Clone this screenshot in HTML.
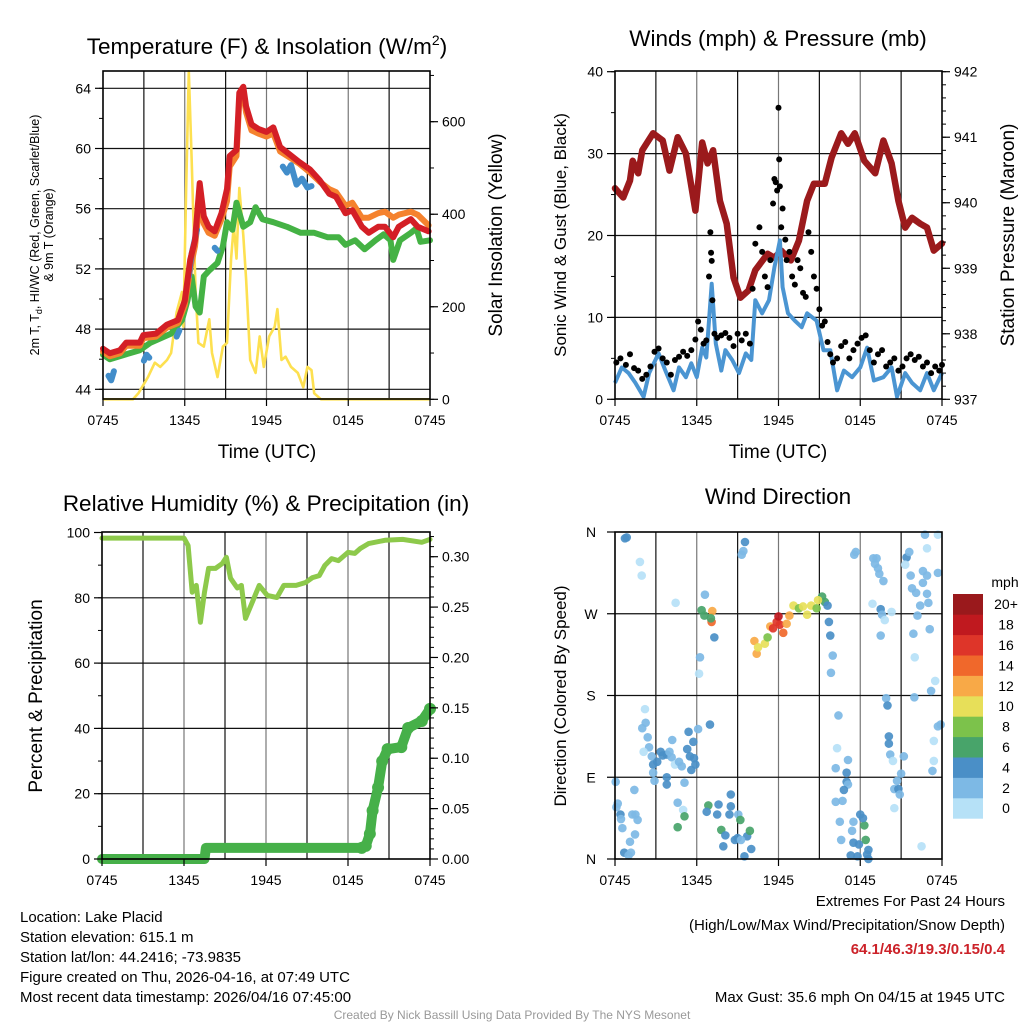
<!DOCTYPE html>
<html><head><meta charset="utf-8"><title>Mesonet Meteogram</title>
<style>
html,body{margin:0;padding:0;background:#fff;}
svg{display:block;font-family:"Liberation Sans",Arial,sans-serif;}
</style></head>
<body>
<svg id="chart" width="1024" height="1024" viewBox="0 0 1024 1024" xmlns="http://www.w3.org/2000/svg">
<rect width="1024" height="1024" fill="#fff"/>
<!-- titles -->
<text x="267" y="54" font-size="22.5" text-anchor="middle">Temperature (F) &amp; Insolation (W/m<tspan font-size="14" dy="-9">2</tspan><tspan dy="9">)</tspan></text>
<text x="778" y="46" font-size="22.5" text-anchor="middle">Winds (mph) &amp; Pressure (mb)</text>
<text x="266" y="511" font-size="22.5" text-anchor="middle">Relative Humidity (%) &amp; Precipitation (in)</text>
<text x="778" y="504" font-size="22.5" text-anchor="middle">Wind Direction</text>
<!-- axis titles -->
<text transform="translate(39,235) rotate(-90)" font-size="12.5" text-anchor="middle">2m T, T<tspan font-size="9" dy="3">d</tspan><tspan dy="-3">, HI/WC (Red, Green, Scarlet/Blue)</tspan></text>
<text transform="translate(53,235) rotate(-90)" font-size="12.5" text-anchor="middle">&amp; 9m T (Orange)</text>
<text transform="translate(502,235) rotate(-90)" font-size="19" text-anchor="middle">Solar Insolation (Yellow)</text>
<text x="267" y="458" font-size="19" text-anchor="middle">Time (UTC)</text>
<text transform="translate(566,235) rotate(-90)" font-size="17" text-anchor="middle">Sonic Wind &amp; Gust (Blue, Black)</text>
<text transform="translate(1014,235) rotate(-90)" font-size="19" text-anchor="middle">Station Pressure (Maroon)</text>
<text x="778" y="458" font-size="19" text-anchor="middle">Time (UTC)</text>
<text transform="translate(42,696) rotate(-90)" font-size="19" text-anchor="middle">Percent &amp; Precipitation</text>
<text transform="translate(566,696) rotate(-90)" font-size="17" text-anchor="middle">Direction (Colored By Speed)</text>
<!-- footer -->
<g font-size="15">
<text x="20" y="922">Location: Lake Placid</text>
<text x="20" y="942">Station elevation: 615.1 m</text>
<text x="20" y="962">Station lat/lon: 44.2416; -73.9835</text>
<text x="20" y="982">Figure created on Thu, 2026-04-16, at 07:49 UTC</text>
<text x="20" y="1002">Most recent data timestamp: 2026/04/16 07:45:00</text>
</g>
<g font-size="15" text-anchor="end">
<text x="1005" y="906">Extremes For Past 24 Hours</text>
<text x="1005" y="930">(High/Low/Max Wind/Precipitation/Snow Depth)</text>
<text x="1005" y="954" fill="#cc2229" font-weight="bold">64.1/46.3/19.3/0.15/0.4</text>
<text x="1005" y="1002">Max Gust: 35.6 mph On 04/15 at 1945 UTC</text>
</g>
<text x="512" y="1019" font-size="12" fill="#999" text-anchor="middle">Created By Nick Bassill Using Data Provided By The NYS Mesonet</text>
<g id="plots"></g>
</svg>
<script>
// ---------- data (hours since 0745 UTC) ----------
const xTickLabels = ["0745","1345","1945","0145","0745"];
const tRed = [0,0.5,1.25,1.7,2.7,2.96,3.9,4.7,5.5,6.0,6.4,6.75,7.1,7.4,7.75,8.2,8.7,9.1,9.3,9.8,10.0,10.3,10.5,10.9,11.4,12.0,12.5,13.0,13.7,14.4,15.2,15.9,16.6,17.1,17.8,18.3,19.0,19.5,20.2,20.7,21.3,21.7,22.6,23.1,23.9];
const vRed = [46.7,46.4,46.6,47.1,47.1,47.6,47.7,48.3,48.6,49.9,52.6,53.9,57.7,55.5,54.8,54.5,55.7,57.3,59.5,59.9,63.7,64.1,62.8,61.6,61.3,61.1,61.4,60.1,59.6,59.1,58.6,57.9,57.0,56.8,55.7,55.9,54.8,54.4,54.8,54.8,54.1,54.8,55.3,54.8,54.5];
const vOrange = [46.5,46.2,46.4,46.9,46.9,47.4,47.5,48.1,48.4,49.6,52.0,53.5,56.5,55.0,54.4,54.2,55.3,56.5,58.8,59.5,63.2,63.6,62.4,61.2,61.0,60.8,61.0,59.8,59.4,59.0,58.4,57.8,57.3,57.1,56.2,56.4,55.4,55.4,55.7,55.8,55.4,55.6,55.8,55.6,54.9];
const tGreen = [0,0.5,2.7,3.5,5.0,5.8,6.2,6.5,6.8,7.1,7.4,7.8,8.4,8.8,9.1,9.5,9.8,10.3,10.8,11.2,11.7,12.5,13.5,14.5,15.5,16.5,17.3,17.8,18.5,19.2,20.0,20.6,21.1,21.3,21.8,22.6,23.0,23.3,24];
const vGreen = [46.3,46.0,46.6,47.1,47.7,48.6,49.9,51.5,49.5,49.1,51.5,51.9,52.4,53.5,55.1,54.6,56.4,54.8,55.1,56.1,55.3,55.1,54.8,54.4,54.4,54.1,54.1,53.6,53.9,53.3,53.9,54.3,53.9,52.6,53.9,54.4,54.7,53.8,53.9];
const tHeat = [0.4,0.6,0.8,null,3.0,3.2,3.4,null,5.4,5.6,null,6.3,6.5,6.7,6.9,null,8.2,8.4,null,13.2,13.5,13.8,14.2,14.6,15.0,15.3];
const vHeat = [44.9,44.6,45.2,null,45.9,46.3,46.1,null,47.5,47.9,null,51.5,53.0,53.8,54.6,null,53.4,53.2,null,58.8,58.4,58.9,57.6,58.0,57.4,57.5];
const tSolar = [0,2.2,2.6,3.3,3.8,4.2,4.7,5.0,5.4,5.8,5.9,6.1,6.3,6.5,6.8,7.0,7.4,7.8,8.0,8.4,8.8,9.1,9.4,9.6,9.8,10.0,10.3,10.5,10.8,11.2,11.5,11.8,12.2,12.6,12.8,13.1,13.4,13.8,14.3,14.7,15.0,15.3,15.5,16.0,24];
const vSolar = [0,0,13,48,79,70,85,100,188,232,157,450,709,522,232,122,114,173,100,48,114,122,304,376,304,457,354,260,85,57,136,70,136,157,195,85,92,70,57,26,70,63,13,0,0];
const tempTicks = [44,48,52,56,60,64];
const solarTicks = [0,200,400,600];

const tPres = [0,0.6,1.1,1.3,1.7,2.0,2.8,3.5,4.0,4.6,5.2,5.9,6.4,6.8,7.2,7.7,8.2,8.7,9.2,9.8,10.3,11.2,11.7,12.2,12.9,13.5,14.1,14.6,15.4,15.9,16.6,17.1,17.6,18.3,19.1,19.7,20.3,20.8,21.3,21.8,22.4,22.9,23.4,24];
const vPres = [940.22,940.08,940.34,940.64,940.45,940.8,941.06,940.95,940.49,941.0,940.75,939.88,940.92,940.6,940.8,940.03,939.68,938.86,938.55,938.66,938.97,939.22,939.16,939.27,939.12,939.42,940.03,940.29,940.29,940.69,941.06,940.9,941.06,940.64,940.45,940.95,940.6,940.03,939.62,939.77,939.68,939.62,939.27,939.38];
const tWind = [0,0.5,1.0,1.5,2.1,2.5,3.2,3.7,4.3,4.7,5.2,5.6,6.0,6.4,6.7,7.1,7.4,7.8,8.1,8.6,9.1,9.6,10.0,10.3,10.8,11.3,11.7,12.1,12.3,12.7,13.2,13.7,14.1,14.8,15.3,15.8,16.3,16.8,17.4,18.0,18.5,19.0,19.7,20.3,20.7,21.3,21.8,22.4,22.9,23.4,24];
const vWind = [2.0,3.9,3.2,2.0,0.3,3.2,5.6,3.5,1.1,3.9,2.7,4.4,2.7,6.3,5.1,14.1,6.8,3.5,6.0,4.8,3.2,5.6,4.8,12.1,10.5,12.1,16.1,19.4,13.7,10.5,9.6,8.8,10.5,9.6,6.0,6.0,1.1,3.5,2.7,3.9,6.3,2.3,2.7,3.9,0.3,3.2,2.0,1.1,3.2,1.1,3.2];
const tGust = [0.1,0.4,0.8,1.1,1.4,1.7,2.0,2.3,2.6,2.9,3.2,3.5,3.8,4.1,4.4,4.7,5.0,5.3,5.6,5.9,6.1,6.3,6.5,6.7,6.9,7.0,7.05,7.1,7.15,7.3,7.5,7.8,8.1,8.4,8.7,9.0,9.3,9.6,9.9,10.1,10.3,10.6,10.8,11.0,11.2,11.4,11.6,11.7,11.8,11.9,12.0,12.05,12.1,12.2,12.3,12.5,12.6,12.8,13.0,13.2,13.4,13.6,13.8,14.0,14.2,14.4,14.6,14.8,15.0,15.2,15.4,15.6,15.8,16.0,16.3,16.6,16.9,17.2,17.5,17.8,18.1,18.4,18.7,19.0,19.3,19.6,19.9,20.2,20.5,20.8,21.1,21.4,21.7,22.0,22.3,22.6,22.9,23.2,23.5,23.8,24.0];
const vGust = [4.5,5.0,4.2,5.5,3.8,3.5,2.5,3.0,4.0,5.8,6.2,5.0,4.5,3.0,4.8,5.2,5.8,5.3,6.0,7.3,9.5,8.5,6.8,7.2,15.0,20.4,17.9,16.9,12.1,8.0,7.5,7.8,8.1,7.5,6.5,8.0,7.2,8.0,6.8,13.5,19.0,21.0,18.0,15.0,13.7,17.0,23.9,26.9,26.5,25.5,35.6,29.3,26.0,21.0,23.3,19.5,17.0,18.0,15.0,14.0,17.0,16.0,13.0,12.5,20.4,18.0,15.0,13.5,11.0,9.0,9.5,7.0,5.5,4.5,5.0,6.5,7.0,5.0,6.0,6.8,7.5,7.8,6.0,4.5,5.5,6.0,4.0,4.5,5.0,3.5,4.0,5.0,5.5,4.8,5.2,4.0,4.5,3.2,4.0,3.5,4.2];
const windTicks = [0,10,20,30,40];
const presTicks = [937,938,939,940,941,942];

const tRH = [0,6.0,6.3,6.6,6.9,7.2,7.5,7.8,8.3,8.8,9.1,9.4,9.9,10.2,10.5,10.9,11.5,12.1,12.8,13.3,14.2,14.9,15.4,15.9,16.3,16.8,17.3,18.0,18.5,18.9,19.5,20.7,22.0,23.4,24];
const vRH = [98.3,98.3,96,81.7,83.8,72.5,81.7,89,89,90.5,92.4,86,83,83.8,73.7,77.7,83.8,80.7,80.1,83.8,83.8,84.7,86.2,86.8,89.9,92,91.4,93.9,93.6,95.1,96.6,97.6,97.9,97,97.9];
const tPrecip = [0,7.5,7.6,19.0,19.3,19.6,19.8,20.2,20.5,20.9,21.9,22.4,23.4,24];
const vPrecip = [0,0,0.011,0.011,0.013,0.025,0.048,0.071,0.097,0.109,0.111,0.130,0.137,0.149];
const rhTicks = [0,20,40,60,80,100];
const precipTicks = [0,0.05,0.10,0.15,0.20,0.25,0.30];

const dirLabels = ["N","E","S","W","N"];
const tDir = [0.86,0.73,1.83,1.96,4.45,6.6,6.36,6.56,7.14,7.09,7.04,7.29,6.24,6.17,9.54,9.42,9.3,17.67,17.56,10.23,10.4,10.5,11.0,11.2,11.4,11.6,11.87,12.0,12.1,12.35,12.6,12.8,13.1,13.5,13.8,14.1,14.4,14.8,15.2,15.4,14.9,15.6,15.7,15.8,15.98,15.85,18.96,19.2,19.08,19.3,19.4,19.7,18.9,19.5,19.6,19.8,20.3,19.5,21.4,21.6,21.3,21.7,22.75,23.7,22.9,22.6,22.9,23.7,22.6,21.8,22.1,22.9,22.4,23.0,22.2,23.1,21.9,22.0,23.5,23.2,21.97,19.9,20.0,23.9,23.7,23.4,23.4,23.3,20.1,20.1,20.2,20.4,21.2,21.0,20.7,20.5,20.8,20.9,20.5,22.5,16.4,16.3,17.1,16.2,17.0,17.0,17.1,16.8,16.2,16.7,16.5,17.5,18.0,18.3,18.2,17.4,16.6,17.5,17.9,18.4,18.6,18.5,17.3,17.8,18.6,2.2,2.25,2.0,2.4,2.5,2.1,2.7,2.8,3.1,3.35,3.5,3.8,4.0,4.2,4.16,2.8,2.9,3.8,3.8,4.4,4.7,4.9,5.1,5.4,5.75,5.3,5.5,5.8,5.9,5.6,6.1,6.97,0.05,0.1,0.2,0.4,0.44,0.54,0.68,1.0,1.17,1.42,1.27,1.5,1.66,1.47,1.1,4.6,5.0,5.1,4.6,6.85,6.73,7.6,7.5,8.4,8.5,8.5,9.05,9.2,7.8,8.1,8.8,9.0,7.95,9.7,9.9,10.0,9.5,9.25];
const vDir = [354,353,327,312,282,291,274,268,273,261,265,244,222,204,349,339,335,338,335,240,226,233,237,244,256,254,261,267,258,249,259,268,279,276,278,269,279,276,289,283,285,279,261,246,224,205,331,331,325,320,314,306,281,275,269,263,272,246,332,338,324,312,357,357,342,317,312,315,304,298,293,292,279,282,268,253,248,222,196,185,178,177,169,148,146,130,108,97,135,127,115,108,113,94,86,77,77,71,56,14,158,122,109,100,95,85,82,76,63,64,41,41,49,37,45,31,21,18,16,21,10,5,4,3,0,165,150,144,134,123,118,113,104,107,118,114,115,118,131,112,95,86,90,82,104,107,102,84,140,129,121,113,111,104,98,143,148,85,57,61,49,44,34,7,4,7,76,49,49,43,27,19,62,54,47,35,59,52,60,49,49,71,58,49,43,32,26,21,23,14,25,31,11,3,21];
const vDirSpd = [4,4,1,1,1,3,7,7,13,15,7,4,3,1,4,3,3,3,3,12,12,11,10,8,13,17,17,19,17,15,12,12,11,9,11,11,10,9,7,7,10,4,4,4,3,3,3,3,3,3,3,3,1,4,3,1,1,3,4,3,1,3,3,1,1,3,3,3,3,3,3,3,3,3,3,3,3,1,1,3,3,3,4,3,3,1,1,3,4,4,3,1,3,3,3,3,4,3,1,1,3,1,3,3,4,4,3,4,3,3,3,3,4,7,4,3,3,4,4,7,4,4,4,4,4,1,3,3,3,3,1,3,4,4,4,4,4,3,3,3,3,3,4,4,1,3,3,3,4,4,4,4,4,4,4,3,4,3,3,3,4,3,3,4,3,3,3,3,3,3,3,3,3,1,7,7,7,4,4,4,4,4,4,3,7,7,4,4,4,4,4,7,4,4,3,4,7,4,4];
const speedBins = ["0","2","4","6","8","10","12","14","16","18","20+"];
const speedColors = ["#b6e1f7","#7db9e5","#4a8fc7","#48a46a","#7cc24b","#e7df59","#f8a947","#f0682b","#de3529","#c0191f","#9a191c"];

// ---------- helpers ----------
const NS = "http://www.w3.org/2000/svg";
const root = document.getElementById("plots");
function mk(tag, attrs, parent) {
  const e = document.createElementNS(NS, tag);
  for (const k in attrs) e.setAttribute(k, attrs[k]);
  (parent || root).appendChild(e);
  return e;
}
function linScale(d0, d1, r0, r1) { return v => r0 + (v - d0) / (d1 - d0) * (r1 - r0); }
function pathFrom(ts, vs, sx, sy) {
  let d = "", pen = false;
  for (let i = 0; i < ts.length; i++) {
    if (ts[i] === null || vs[i] === null || vs[i] === undefined) { pen = false; continue; }
    d += (pen ? "L" : "M") + sx(ts[i]).toFixed(1) + "," + sy(vs[i]).toFixed(1);
    pen = true;
  }
  return d;
}
function frame(P, name) {
  const g = mk("g", {});
  
  
  for (let h = 3; h < 24; h += 3) {
    const x = P.sx(h);
    mk("line", {x1: x, x2: x, y1: P.y0, y2: P.y1, stroke: (h % 6 === 0) ? "#777" : "#111", "stroke-width": 1.2}, g);
  }
  P.hgrid.forEach(y => mk("line", {x1: P.x0, x2: P.x1, y1: y, y2: y, stroke: "#111", "stroke-width": 1.2}, g));
  return g;
}
function border(P, name) {
  const r = mk("rect", {x: P.x0, y: P.y0, width: P.x1 - P.x0, height: P.y1 - P.y0, fill: "none", stroke: "#000", "stroke-width": 1.6});
  
  
  const g = mk("g", {"font-size": 14});
  
  
  xTickLabels.forEach((lab, i) => {
    const x = P.sx(i * 6);
    mk("line", {x1: x, x2: x, y1: P.y1, y2: P.y1 + 7, stroke: "#000", "stroke-width": 1.2}, g);
    const t = mk("text", {x: x, y: P.y1 + 26, "text-anchor": "middle"}, g);
    t.textContent = lab;
  });
}
function yAxis(P, ticks, sy, side, fmt, minorStep, lo, hi, name) {
  const g = mk("g", {"font-size": 14});
  
  
  const x = side === "left" ? P.x0 : P.x1, dir = side === "left" ? -1 : 1;
  for (let v = lo; v <= hi + 1e-9; v += minorStep) {
    const y = sy(v);
    if (y < P.y0 - 0.5 || y > P.y1 + 0.5) continue;
    mk("line", {x1: x, x2: x + dir * 4, y1: y, y2: y, stroke: "#000", "stroke-width": 1}, g);
  }
  ticks.forEach(v => {
    const y = sy(v);
    mk("line", {x1: x, x2: x + dir * 8, y1: y, y2: y, stroke: "#000", "stroke-width": 1.2}, g);
    const t = mk("text", {x: x + dir * 12, y: y + 5, "text-anchor": side === "left" ? "end" : "start"}, g);
    t.textContent = fmt(v);
  });
}

// ---------- Panel 1: temperature ----------
const P1 = {x0: 103, x1: 430, y0: 71, y1: 399};
P1.sx = linScale(0, 24, P1.x0, P1.x1);
const sT = linScale(44, 64, 389.3, 88.3);
const sSol = linScale(0, 600, 399.3, 121.7);
P1.hgrid = tempTicks.map(sT);
frame(P1, "temperature");
const solarLine = mk("path", {d: pathFrom(tSolar, vSolar, P1.sx, sSol), fill: "none", stroke: "#fde050", "stroke-width": 2.6, "stroke-linejoin": "round"});


const greenLine = mk("path", {d: pathFrom(tGreen, vGreen, P1.sx, sT), fill: "none", stroke: "#44b244", "stroke-width": 6, "stroke-linejoin": "round", "stroke-linecap": "round"});


const orangeLine = mk("path", {d: pathFrom(tRed, vOrange, P1.sx, sT), fill: "none", stroke: "#f5822e", "stroke-width": 6, "stroke-linejoin": "round", "stroke-linecap": "round"});


const heatLine = mk("path", {d: pathFrom(tHeat, vHeat, P1.sx, sT), fill: "none", stroke: "#428dca", "stroke-width": 6, "stroke-linejoin": "round", "stroke-linecap": "round"});


const redLine = mk("path", {d: pathFrom(tRed, vRed, P1.sx, sT), fill: "none", stroke: "#d41f26", "stroke-width": 6, "stroke-linejoin": "round", "stroke-linecap": "round"});


border(P1, "temperature");
yAxis(P1, tempTicks, sT, "left", v => v, 2, 44, 64, "temperature-y-axis");
yAxis(P1, solarTicks, sSol, "right", v => v, 100, 0, 700, "solar-y-axis");

// ---------- Panel 2: winds & pressure ----------
const P2 = {x0: 615, x1: 942, y0: 71, y1: 399};
P2.sx = linScale(0, 24, P2.x0, P2.x1);
const sW = linScale(0, 40, 399.3, 71.7);
const sP = linScale(937, 942, 399.3, 71.7);
P2.hgrid = [10, 20, 30].map(sW);
frame(P2, "wind");
const presLine = mk("path", {d: pathFrom(tPres, vPres, P2.sx, sP), fill: "none", stroke: "#9b1a1c", "stroke-width": 6.5, "stroke-linejoin": "round", "stroke-linecap": "round"});


const windLine = mk("path", {d: pathFrom(tWind, vWind, P2.sx, sW), fill: "none", stroke: "#4b95d2", "stroke-width": 4, "stroke-linejoin": "round"});


const gustG = mk("g", {});


tGust.forEach((t, i) => {
  if (vGust[i] === undefined) return;
  const c = mk("circle", {cx: P2.sx(t), cy: sW(vGust[i]), r: 3, fill: "#000"}, gustG);
  
  
});
border(P2, "wind");
yAxis(P2, windTicks, sW, "left", v => v, 5, 0, 40, "wind-y-axis");
yAxis(P2, presTicks, sP, "right", v => v, 0.2, 937, 942, "pressure-y-axis");

// ---------- Panel 3: RH & precip ----------
const P3 = {x0: 102, x1: 430, y0: 532, y1: 859};
P3.sx = linScale(0, 24, P3.x0, P3.x1);
const sRH = linScale(0, 100, 859, 532.5);
const sPr = linScale(0, 0.30, 859, 556.7);
P3.hgrid = [20, 40, 60, 80].map(sRH);
frame(P3, "humidity");
const rhLine = mk("path", {d: pathFrom(tRH, vRH, P3.sx, sRH), fill: "none", stroke: "#8dc94b", "stroke-width": 5, "stroke-linejoin": "round", "stroke-linecap": "round"});


const prLine = mk("path", {d: pathFrom(tPrecip, vPrecip, P3.sx, sPr), fill: "none", stroke: "#46b049", "stroke-width": 10, "stroke-linejoin": "round", "stroke-linecap": "round"});


const prDots = mk("g", {});


tPrecip.forEach((t, i) => {
  if (i < 3) return;
  const c = mk("circle", {cx: P3.sx(t), cy: sPr(vPrecip[i]), r: 6, fill: "#46b049"}, prDots);
  
  
});
border(P3, "humidity");
yAxis(P3, rhTicks, sRH, "left", v => v, 10, 0, 100, "humidity-y-axis");
yAxis(P3, precipTicks, sPr, "right", v => v.toFixed(2), 0.01, 0, 0.32, "precipitation-y-axis");

// ---------- Panel 4: wind direction ----------
const P4 = {x0: 615, x1: 942, y0: 532, y1: 859};
P4.sx = linScale(0, 24, P4.x0, P4.x1);
const sD = linScale(0, 360, 859, 532);
P4.hgrid = [90, 180, 270].map(sD);
frame(P4, "direction");
const dirG = mk("g", {});


tDir.forEach((t, i) => {
  if (vDir[i] === undefined) return;
  const spd = (vDirSpd[i] === undefined) ? 3 : vDirSpd[i];
  const bin = Math.max(0, Math.min(10, Math.floor(spd / 2)));
  const c = mk("circle", {cx: P4.sx(t), cy: sD(vDir[i]), r: 4.3, fill: speedColors[bin], "fill-opacity": 0.92}, dirG);
  
  
});
border(P4, "direction");
(function () {
  const g = mk("g", {"font-size": 14});
  
  
  dirLabels.forEach((lab, i) => {
    const y = sD(i * 90);
    mk("line", {x1: P4.x0, x2: P4.x0 - 8, y1: y, y2: y, stroke: "#000", "stroke-width": 1.2}, g);
    const t = mk("text", {x: 591, y: y + 5, "text-anchor": "middle"}, g);
    t.textContent = lab;
  });
})();
// colorbar
(function () {
  const g = mk("g", {"font-size": 14});
  
  
  const top = 594, h = 20.4;
  const ttl = mk("text", {x: 1005, y: 587, "text-anchor": "middle"}, g);
  ttl.textContent = "mph";
  speedBins.forEach((lab, i) => {
    const k = speedBins.length - 1 - i;
    const y = top + k * h;
    const r = mk("rect", {x: 953, y: y, width: 30, height: h + 0.3, fill: speedColors[i]}, g);
    
    
    const t = mk("text", {x: 1006, y: y + h / 2 + 5, "text-anchor": "middle"}, g);
    t.textContent = lab;
  });
})();
</script>
</body></html>
